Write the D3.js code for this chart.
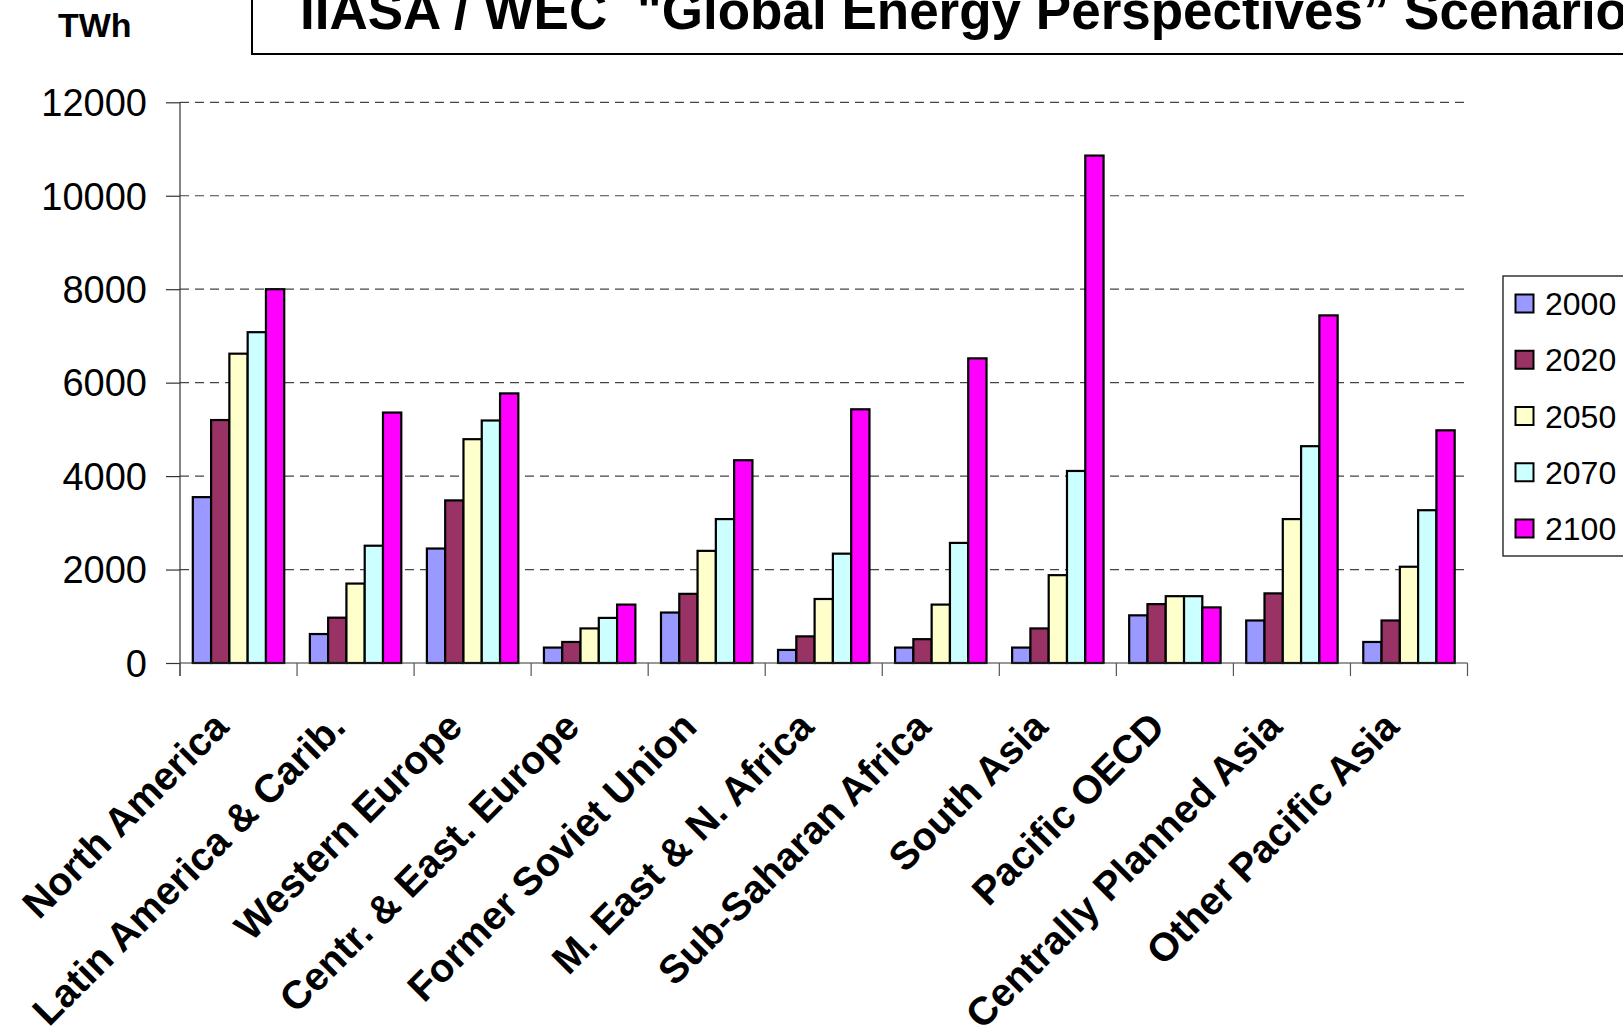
<!DOCTYPE html>
<html>
<head>
<meta charset="utf-8">
<script src="https://cdn.jsdelivr.net/npm/d3@7"></script>
<style>
html,body{margin:0;padding:0;background:#fff;overflow:hidden;}
svg{display:block;font-family:"Liberation Sans",Arial,sans-serif;}
</style>
</head>
<body>
<svg id="chart" width="1623" height="1026"></svg>
<script>
const categories = ["North America","Latin America & Carib.","Western Europe","Centr. & East. Europe","Former Soviet Union","M. East & N. Africa","Sub-Saharan Africa","South Asia","Pacific OECD","Centrally Planned Asia","Other Pacific Asia"];
const seriesNames = ["2000","2020","2050","2070","2100"];
const v2000 = [3550, 620, 2450, 330, 1080, 280, 330, 330, 1020, 910, 450];
const v2020 = [5200, 970, 3480, 450, 1480, 570, 510, 740, 1260, 1490, 910];
const v2050 = [6620, 1700, 4790, 740, 2400, 1370, 1250, 1880, 1430, 3080, 2060];
const v2070 = [7080, 2510, 5190, 965, 3080, 2340, 2570, 4110, 1430, 4640, 3270];
const v2100 = [8000, 5360, 5770, 1250, 4340, 5430, 6520, 10860, 1190, 7440, 4980];
const seriesValues = [v2000, v2020, v2050, v2070, v2100];
const seriesColors = ["#9999FF","#993366","#FFFFCC","#CCFFFF","#FF00FF"];
const yTicks = [0, 2000, 4000, 6000, 8000, 10000, 12000];
const titleText = "IIASA / WEC  \"Global Energy Perspectives\u201D Scenarios";
const unitText = "TWh";

(function () {
const svg = d3.select("#chart");
const pLeft = 180, pRight = 1467.5, pTop = 102.3, pBottom = 663;

const x = d3.scaleBand().domain(categories).range([pLeft, pRight]).padding(0);
const xs = d3.scaleBand().domain(seriesNames).range([0, x.bandwidth()]).paddingInner(0).paddingOuter(0.7);
const y = d3.scaleLinear().domain([0, 12000]).range([pBottom, pTop]);

// title box
svg.append("rect").attr("x", 252).attr("y", -10).attr("width", 1500).attr("height", 64)
  .attr("fill", "#fff").attr("stroke", "#000").attr("stroke-width", 2);
svg.append("text").attr("x", 300).attr("y", 29).attr("font-size", 53).attr("font-weight", "bold")
  .attr("fill", "#000").style("white-space", "pre").text(titleText);
svg.append("text").attr("x", 58).attr("y", 37).attr("font-size", 34).attr("font-weight", "bold")
  .attr("fill", "#000").text(unitText);

// gridlines
svg.append("g").selectAll("line").data(yTicks.filter(d => d > 0)).join("line")
  .attr("x1", pLeft).attr("x2", pRight).attr("y1", d => y(d)).attr("y2", d => y(d))
  .attr("stroke", "#444").attr("stroke-width", 1.2).attr("stroke-dasharray", "9,6");

// y axis
const yAxis = d3.axisLeft(y).tickValues(yTicks).tickSize(14).tickPadding(19).tickFormat(d3.format("d"));
const gy = svg.append("g").attr("transform", `translate(${pLeft},0)`).call(yAxis);
gy.select(".domain").remove();
gy.selectAll(".tick line").attr("stroke", "#333").attr("stroke-width", 1.2);
gy.selectAll(".tick text").attr("font-size", 38).attr("fill", "#000")
  .attr("font-family", "'Liberation Sans',Arial,sans-serif").attr("dy", "0.35em");
svg.append("line").attr("x1", pLeft).attr("x2", pLeft).attr("y1", y(12000)).attr("y2", pBottom + 13)
  .attr("stroke", "#333").attr("stroke-width", 1.2);

// bars
const groups = svg.append("g").selectAll("g").data(categories).join("g")
  .attr("transform", d => `translate(${x(d)},0)`);
groups.selectAll("rect").data((c, i) => seriesNames.map((s, j) => ({s, j, v: seriesValues[j][i]})))
  .join("rect")
  .attr("x", d => xs(d.s)).attr("width", xs.bandwidth())
  .attr("y", d => y(d.v)).attr("height", d => y(0) - y(d.v))
  .attr("fill", d => seriesColors[d.j]).attr("stroke", "#000").attr("stroke-width", 2.2);

// x axis
svg.append("line").attr("x1", pLeft).attr("x2", pRight).attr("y1", pBottom).attr("y2", pBottom)
  .attr("stroke", "#333").attr("stroke-width", 1.2);
const bounds = categories.map(c => x(c)).concat([pRight]);
svg.append("g").selectAll("line").data(bounds).join("line")
  .attr("x1", d => d).attr("x2", d => d).attr("y1", pBottom).attr("y2", pBottom + 13)
  .attr("stroke", "#555").attr("stroke-width", 1.2);
svg.append("g").selectAll("text").data(categories).join("text")
  .attr("transform", d => `translate(${x(d) + x.bandwidth()/2 - 8},${pBottom + 66}) rotate(-45)`)
  .attr("text-anchor", "end").attr("font-size", 39.5).attr("font-weight", "bold").attr("fill", "#000")
  .text(d => d);

// legend
const lg = svg.append("g");
lg.append("rect").attr("x", 1503).attr("y", 276).attr("width", 200).attr("height", 280)
  .attr("fill", "#fff").attr("stroke", "#333").attr("stroke-width", 1.5);
const ly = d3.scalePoint().domain(seriesNames).range([303.5, 528.5]);
lg.selectAll("rect.sw").data(seriesNames).join("rect").attr("class", "sw")
  .attr("x", 1515.5).attr("y", d => ly(d) - 9).attr("width", 18).attr("height", 18)
  .attr("fill", (d, i) => seriesColors[i]).attr("stroke", "#000").attr("stroke-width", 2);
lg.selectAll("text").data(seriesNames).join("text")
  .attr("x", 1545).attr("y", d => ly(d) + 11.5).attr("font-size", 32).attr("fill", "#000").text(d => d);
})();
</script>
</body>
</html>
